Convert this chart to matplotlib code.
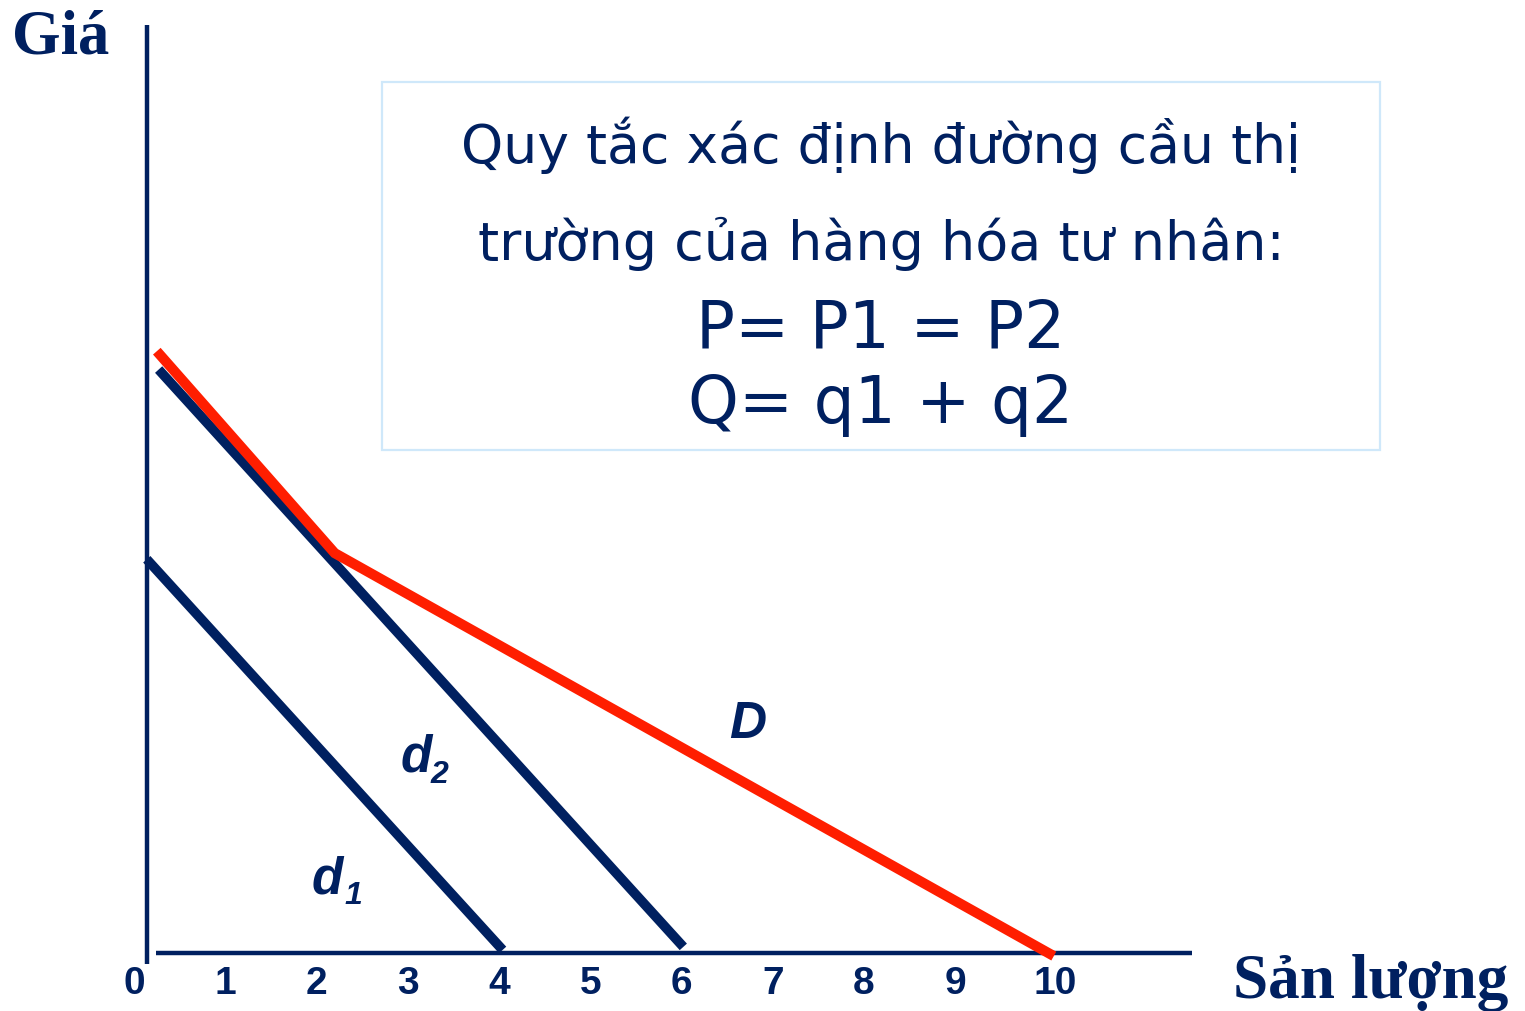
import matplotlib
matplotlib.use("Agg")
import matplotlib.pyplot as plt
from matplotlib.patches import Rectangle

# ---- data ----
q_ticks = [0, 1, 2, 3, 4, 5, 6, 7, 8, 9, 10]
tick_labels = ["0", "1", "2", "3", "4", "5", "6", "7", "8", "9", "10"]
d1_q = [0.14, 4.04]
d1_p = [3.86, 0.03]
d2_q = [0.27, 6.02]
d2_p = [5.72, 0.06]
D_q = [0.25, 2.20, 10.08]
D_p = [5.90, 3.92, -0.03]
box_lines = ["Quy tắc xác định đường cầu thị",
             "trường của hàng hóa tư nhân:",
             "P= P1 = P2",
             "Q= q1 + q2"]

NAVY = "#002060"
RED = "#FF1E00"

W, H = 1525, 1011
fig = plt.figure(figsize=(W / 100, H / 100), dpi=100)
ax = fig.add_axes([0, 0, 1, 1])
# pixel mapping: px = 134 + 91.25*q ; py(from top) = 953 - 102*P
ax.set_xlim(-134 / 91.25, (W - 134) / 91.25)
ax.set_ylim((953 - H) / 102, 953 / 102)
ax.axis("off")

def qx(px):
    return (px - 134) / 91.25

def py(pix):
    return (953 - pix) / 102

# axes lines
ax.plot([qx(147), qx(147)], [py(964), py(25)], color=NAVY, lw=3.2, solid_capstyle="butt")
ax.plot([qx(156), qx(1192)], [0, 0], color=NAVY, lw=3.2, solid_capstyle="butt")

# demand curves
ax.plot(d1_q, d1_p, color=NAVY, lw=7.0, solid_capstyle="butt")
ax.plot(d2_q, d2_p, color=NAVY, lw=7.0, solid_capstyle="butt")
ax.plot(D_q, D_p, color=RED, lw=7.3, solid_capstyle="butt", solid_joinstyle="miter")

# tick labels
for q, lab in zip(q_ticks, tick_labels):
    xq = q + (0.1 if lab == "10" else 0.0)
    ax.text(xq, py(984), lab, ha="center", va="center", fontsize=28,
            fontweight="bold", family="Liberation Sans", color=NAVY)

# axis titles
fig.text(12 / W, 1 - 53 / H, "Giá", ha="left", va="baseline", fontsize=45,
         fontweight="bold", family="Liberation Serif", color=NAVY)
fig.text(1233 / W, 1 - 998 / H, "Sản lượng", ha="left", va="baseline", fontsize=45.5,
         fontweight="bold", family="Liberation Serif", color=NAVY)

# curve labels
lab_kw = dict(fontweight="bold", fontstyle="italic", family="Liberation Sans", color=NAVY,
              ha="left", va="baseline")
ax.text(qx(312), py(893), "d", fontsize=37, **lab_kw)
ax.text(qx(344), py(904), "1", fontsize=23, **lab_kw)
ax.text(qx(401), py(772), "d", fontsize=37, **lab_kw)
ax.text(qx(431), py(783), "2", fontsize=23, **lab_kw)
ax.text(qx(729), py(738), "D", fontsize=37, **lab_kw)

# text box
fig.patches.append(Rectangle((382 / W, 1 - 450 / H), 998 / W, 368 / H,
                             transform=fig.transFigure, facecolor="white",
                             edgecolor="#CFE8FA", lw=1.6, zorder=0))
baselines = [163, 260, 347, 423]
sizes = [38.6, 38.8, 46.5, 46.5]
for txt, b, s in zip(box_lines, baselines, sizes):
    fig.text(881 / W, 1 - b / H, txt, ha="center", va="baseline", fontsize=s,
             family="DejaVu Sans", color=NAVY)

fig.savefig("out.png", dpi=100)
